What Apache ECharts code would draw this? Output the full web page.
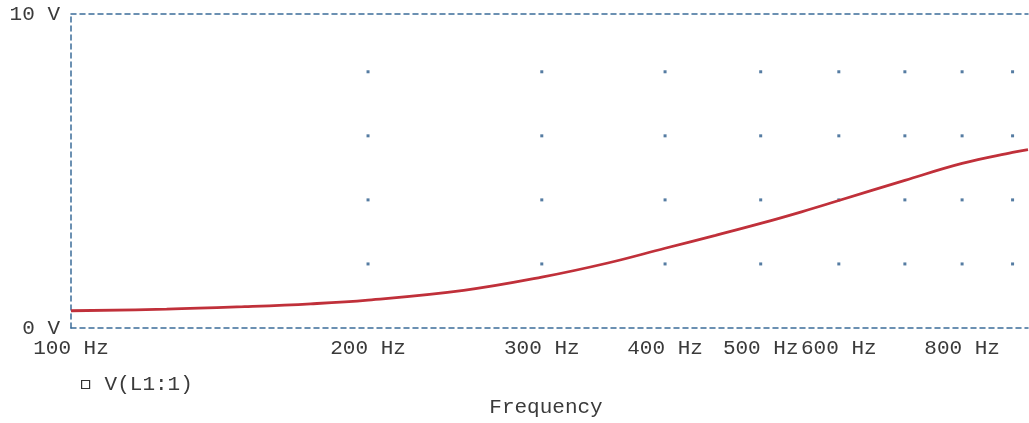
<!DOCTYPE html>
<html>
<head>
<meta charset="utf-8">
<script src="https://cdn.jsdelivr.net/npm/echarts@6/dist/echarts.min.js"></script>
<style>
html,body{margin:0;padding:0;background:#fff;}
#chart{width:1029px;height:423px;}
</style>
</head>
<body>
<div id="chart"></div>
<script>
// Data
const freqs = [100, 125, 150, 175, 200, 250, 300, 350, 400, 450, 500, 550, 600, 700, 800, 900, 933];
const volts = [0.55, 0.6, 0.68, 0.77, 0.89, 1.2, 1.62, 2.07, 2.54, 2.95, 3.33, 3.7, 4.06, 4.7, 5.24, 5.59, 5.68];
const xTickLabels = [100, 200, 300, 400, 500, 600, 800];
const gridFreqs = [200, 300, 400, 500, 600, 700, 800, 900];
const gridVolts = [2.04, 4.08, 6.12, 8.16];
const seriesName = 'V(L1:1)';

const FONT = '"Liberation Mono", "DejaVu Sans Mono", monospace';
const BLUE = '#3b6c99';
const TXT = '#3a3a3a';

const curve = freqs.map((f, i) => [f, volts[i]]);
const dots = [];
gridFreqs.forEach(f => gridVolts.forEach(v => dots.push([f, v])));

const chart = echarts.init(document.getElementById('chart'), null, {renderer: 'canvas'});
chart.setOption({
  animation: false,
  backgroundColor: '#fff',
  grid: {left: 71, right: 1, top: 14, bottom: 94, containLabel: false},
  legend: {
    data: [seriesName],
    left: 76, top: 369,
    icon: 'rect', itemWidth: 8, itemHeight: 8,
    itemStyle: {color: 'transparent', borderColor: '#333', borderWidth: 1.2},
    textStyle: {fontFamily: FONT, fontSize: 21, color: TXT, padding: [0, 0, 0, 10]}
  },
  xAxis: [{
    type: 'log', logBase: 10, min: 100, max: 933,
    name: 'Frequency', nameLocation: 'middle', nameGap: 69,
    nameTextStyle: {fontFamily: FONT, fontSize: 21, color: TXT, padding: [0, 7, 0, 0]},
    axisLine: {show: true, lineStyle: {color: BLUE, type: [5, 4], width: 1.5}},
    axisTick: {show: false},
    splitLine: {show: false},
    axisLabel: {
      customValues: xTickLabels,
      fontFamily: FONT, fontSize: 21, color: TXT, margin: 10,
      formatter: v => v + ' Hz'
    }
  }, {
    type: 'log', logBase: 10, min: 100, max: 933, position: 'top',
    axisLine: {show: true, onZero: false, lineStyle: {color: BLUE, type: [5, 4], width: 1.5}},
    axisTick: {show: false}, axisLabel: {show: false}, splitLine: {show: false}
  }],
  yAxis: {
    type: 'value', min: 0, max: 10, interval: 10,
    axisLine: {show: true, lineStyle: {color: BLUE, type: [5, 4], width: 1.5}},
    axisTick: {show: false},
    splitLine: {show: false},
    axisLabel: {fontFamily: FONT, fontSize: 21, color: TXT, margin: 11, formatter: v => v + ' V'}
  },
  series: [{
    type: 'scatter', data: dots, symbol: 'rect', symbolSize: 3,
    itemStyle: {color: '#2b5b8b'}, silent: true, z: 1
  }, {
    name: seriesName, type: 'line', data: curve, smooth: 0.4,
    showSymbol: false, symbol: 'none',
    lineStyle: {color: '#c0303a', width: 2.8}, itemStyle: {color: '#c0303a'}, z: 3
  }]
});
</script>
</body>
</html>
